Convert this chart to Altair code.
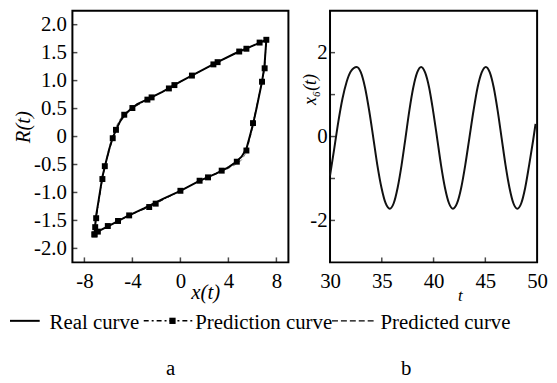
import altair as alt
import pandas as pd

FONT = "Liberation Serif"

# ---------------- panel a: hysteresis loop ----------------
REAL_X = [-7.16, -7.05, -6.8, -6.5, -6.2, -5.9, -5.6, -5.3, -5.0, -4.6, -4.2, -3.6, -2.8, -1.5, 0.0,
          1.5, 3.0, 4.5, 6.0, 7.16,
          7.0, 6.8, 6.55, 6.3, 6.05, 5.8, 5.5, 5.1, 4.6, 4.0, 3.0, 1.5, 0.0, -1.5, -3.0, -4.5, -6.0,
          -6.9, -7.16]
REAL_R = [-1.75, -1.45, -1.12, -0.72, -0.45, -0.2, 0.0, 0.15, 0.28, 0.4, 0.48, 0.58, 0.66, 0.8, 0.98,
          1.15, 1.32, 1.48, 1.62, 1.73,
          1.25, 0.98, 0.72, 0.46, 0.22, 0.02, -0.22, -0.36, -0.46, -0.55, -0.66, -0.8, -0.97, -1.12,
          -1.28, -1.43, -1.6, -1.7, -1.75]

PRED_X = [-7.16, -7.1, -7.02, -6.5, -6.3, -5.64, -5.37, -4.68, -4.0, -2.75, -2.4, -0.96, -0.5, 0.96,
          2.75, 3.1, 4.9, 5.5, 6.6, 7.16,
          7.02, 6.8, 6.05, 5.5, 4.7, 3.44, 2.3, 1.6, 0.0, -2.06, -2.6, -4.27, -5.2, -6.05, -6.88, -7.16]
PRED_R = [-1.75, -1.62, -1.46, -0.76, -0.53, -0.03, 0.12, 0.39, 0.51, 0.66, 0.7, 0.86, 0.92, 1.09,
          1.29, 1.33, 1.52, 1.57, 1.68, 1.73,
          1.22, 0.98, 0.24, -0.25, -0.45, -0.61, -0.73, -0.79, -0.97, -1.2, -1.26, -1.41, -1.51, -1.6,
          -1.7, -1.75]

PREDICTED_X = [-7.16, -7.05, -6.8, -6.5, -6.2, -5.9, -5.6, -5.3, -5.0, -4.6, -4.2, -3.6, -2.8, -1.5, 0.0,
               1.5, 3.0, 4.5, 6.0, 7.16,
               7.0, 6.8, 6.55, 6.3, 6.05, 5.8, 5.5, 5.1, 4.6, 4.0, 3.0, 1.5, 0.0, -1.5, -3.0, -4.5,
               -6.0, -6.9, -7.16]
PREDICTED_R = [-1.75, -1.45, -1.12, -0.72, -0.43, -0.16, 0.05, 0.2, 0.32, 0.42, 0.49, 0.58, 0.66, 0.8,
               0.98, 1.15, 1.32, 1.48, 1.62, 1.73,
               1.25, 0.98, 0.72, 0.44, 0.18, -0.03, -0.28, -0.42, -0.5, -0.57, -0.67, -0.8, -0.97,
               -1.12, -1.28, -1.43, -1.6, -1.7, -1.75]

X_TICKS_A = [-8, -4, 0, 4, 8]
Y_TICKS_A = [-2.0, -1.5, -1.0, -0.5, 0.0, 0.5, 1.0, 1.5, 2.0]

# ---------------- panel b: x6(t) ----------------
T_VALUES = [30.0, 30.4, 30.8, 31.2, 31.6, 32.0, 32.58, 32.98, 33.38, 33.78, 34.18, 34.57, 34.97, 35.37,
            35.77, 36.15, 36.53, 36.91, 37.29, 37.66, 38.04, 38.42, 38.80, 39.18, 39.57, 39.95, 40.34,
            40.72, 41.10, 41.49, 41.87, 42.27, 42.67, 43.06, 43.46, 43.86, 44.25, 44.65, 45.05, 45.43,
            45.81, 46.19, 46.57, 46.95, 47.33, 47.71, 48.09, 48.47, 48.85, 49.23, 49.61, 49.85]
X6_VALUES = [-0.93, -0.3, 0.35, 0.9, 1.3, 1.55, 1.66, 1.53, 1.17, 0.62, -0.03, -0.68, -1.22, -1.59,
             -1.72, -1.59, -1.22, -0.68, -0.03, 0.62, 1.17, 1.53, 1.66, 1.53, 1.17, 0.62, -0.03,
             -0.68, -1.22, -1.59, -1.72, -1.59, -1.22, -0.68, -0.03, 0.62, 1.17, 1.53, 1.66, 1.53,
             1.17, 0.62, -0.03, -0.68, -1.22, -1.59, -1.72, -1.59, -1.22, -0.68, -0.1, 0.3]

X_TICKS_B = [30, 35, 40, 45, 50]
X_INNER_B = [35, 40, 45]
Y_TICKS_B = [-2, 0, 2]
Y_INNER_B = [-2, -1, 0, 1, 2]

LEGEND_LABELS = ["Real curve", "Prediction curve", "Predicted curve"]
PANEL_LABELS = ["a", "b"]

FS = 21
WA, HA = 218, 254
WB, HB = 209, 254

real_df = pd.DataFrame({"x": REAL_X, "r": REAL_R, "i": range(len(REAL_X))})
pred_df = pd.DataFrame({"x": PRED_X, "r": PRED_R, "i": range(len(PRED_X))})
predicted_df = pd.DataFrame({"x": PREDICTED_X, "r": PREDICTED_R, "i": range(len(PREDICTED_X))})
sine_df = pd.DataFrame({"t": T_VALUES, "v": X6_VALUES})

xa = alt.Scale(domain=[-9, 9], nice=False, zero=False)
ya = alt.Scale(domain=[-2.25, 2.25], nice=False, zero=False)
xb = alt.Scale(domain=[30, 50], nice=False, zero=False)
yb = alt.Scale(domain=[-3, 3], nice=False, zero=False)

common_axis = dict(ticks=False, domain=False, grid=False, labelFont=FONT, labelFontSize=FS,
                   labelColor="black", labelFlush=False, titleFont=FONT, titleFontStyle="italic",
                   titleFontWeight="normal", titleColor="black")

axis_xa = alt.Axis(values=X_TICKS_A, labelPadding=8,
                   labelExpr="(datum.value<0?'-':'')+format(abs(datum.value),'d')",
                   title="x(t)", titleFontSize=FS, titleX=134, titleY=36,
                   titleBaseline="alphabetic", titleAlign="center", **common_axis)
axis_ya = alt.Axis(values=Y_TICKS_A, labelPadding=6,
                   labelExpr="datum.value==0?'0':(datum.value<0?'-':'')+format(abs(datum.value),'.1f')",
                   title="R(t)", titleFontSize=FS, titleX=-49, titleY=117, titleAngle=270,
                   titleBaseline="middle", titleAlign="center", **common_axis)
axis_xb = alt.Axis(values=X_TICKS_B, labelPadding=8, format="d",
                   title="t", titleFontSize=17, titleX=131, titleY=38,
                   titleBaseline="alphabetic", titleAlign="center", **common_axis)
axis_yb = alt.Axis(values=Y_TICKS_B, labelPadding=3,
                   labelExpr="(datum.value<0?'-':'')+format(abs(datum.value),'d')",
                   title="x₆(t)", titleFontSize=18, titleX=-20, titleY=79, titleAngle=270,
                   titleBaseline="middle", titleAlign="center", **common_axis)

one = pd.DataFrame({"k": [0]})


def XA(f):
    return alt.X(f, scale=xa, axis=axis_xa)


def YA(f):
    return alt.Y(f, scale=ya, axis=axis_ya)


def XB(f):
    return alt.X(f, scale=xb, axis=axis_xb)


def YB(f):
    return alt.Y(f, scale=yb, axis=axis_yb)


# panel a layers
predicted_line = alt.Chart(predicted_df).mark_line(
    color="#777777", strokeWidth=1, strokeDash=[4, 3]
).encode(x=XA("x:Q"), y=YA("r:Q"), order="i:Q")

real_line = alt.Chart(real_df).mark_line(color="black", strokeWidth=2).encode(
    x=XA("x:Q"), y=YA("r:Q"), order="i:Q")

pred_line = alt.Chart(pred_df).mark_line(color="black", strokeWidth=1, strokeDash=[5, 2, 1, 2]).encode(
    x=XA("x:Q"), y=YA("r:Q"), order="i:Q")

pred_pts = alt.Chart(pred_df).mark_point(shape="square", filled=True, size=36, color="black",
                                          opacity=1).encode(x=XA("x:Q"), y=YA("r:Q"))

ticks_xa = alt.Chart(pd.DataFrame({"x": X_TICKS_A})).mark_tick(
    orient="vertical", color="black", thickness=1.5, size=5
).encode(x=XA("x:Q"), y=alt.value(HA - 2.5))
ticks_ya = alt.Chart(pd.DataFrame({"r": Y_TICKS_A})).mark_tick(
    orient="horizontal", color="black", thickness=1.5, size=5
).encode(y=YA("r:Q"), x=alt.value(2.5))


def ltext(label, px, py, align="left"):
    return alt.Chart(pd.DataFrame({"label": [label]})).mark_text(
        font=FONT, fontSize=FS, align=align, baseline="alphabetic", color="black"
    ).encode(x=alt.value(px), y=alt.value(py), text="label:N")


def lrule(x1, x2, py, width, dash=None, color="black"):
    kw = dict(color=color, strokeWidth=width)
    if dash:
        kw["strokeDash"] = dash
    return alt.Chart(one).mark_rule(**kw).encode(x=alt.value(x1), x2=alt.value(x2), y=alt.value(py))


LY = 313
TY = 321
legend_layers = [
    lrule(-63, -33, LY, 2),
    ltext(LEGEND_LABELS[0], -23, TY),
    lrule(72, 121, LY, 1.5, [5, 3, 2, 3]),
    alt.Chart(one).mark_point(shape="square", filled=True, size=40, color="black", opacity=1).encode(
        x=alt.value(101), y=alt.value(LY)),
    ltext(LEGEND_LABELS[1], 124, TY),
    lrule(262, 307, LY, 1.2, [6, 3]),
    ltext(LEGEND_LABELS[2], 311, TY),
    ltext(PANEL_LABELS[0], 99, 368, "center"),
    ltext(PANEL_LABELS[1], 337, 368, "center"),
]

panel_a = alt.layer(predicted_line, real_line, pred_line, pred_pts, ticks_xa, ticks_ya,
                    *legend_layers).properties(width=WA, height=HA)

# panel b layers
sine = alt.Chart(sine_df).mark_line(color="#111111", strokeWidth=2, interpolate="monotone").encode(
    x=XB("t:Q"), y=YB("v:Q"))
ticks_xb = alt.Chart(pd.DataFrame({"t": X_INNER_B})).mark_tick(
    orient="vertical", color="black", thickness=1.5, size=5
).encode(x=XB("t:Q"), y=alt.value(HB - 2.5))
ticks_yb = alt.Chart(pd.DataFrame({"v": Y_INNER_B})).mark_tick(
    orient="horizontal", color="black", thickness=1.5, size=5
).encode(y=YB("v:Q"), x=alt.value(2.5))

panel_b = alt.layer(sine, ticks_xb, ticks_yb).properties(width=WB, height=HB)

chart = alt.hconcat(panel_a, panel_b, spacing=42, bounds="flush").configure_view(
    stroke="black", strokeWidth=2
).properties(padding=0, background="white")

chart.save("out.html", embed_options={"renderer": "svg", "actions": False})
